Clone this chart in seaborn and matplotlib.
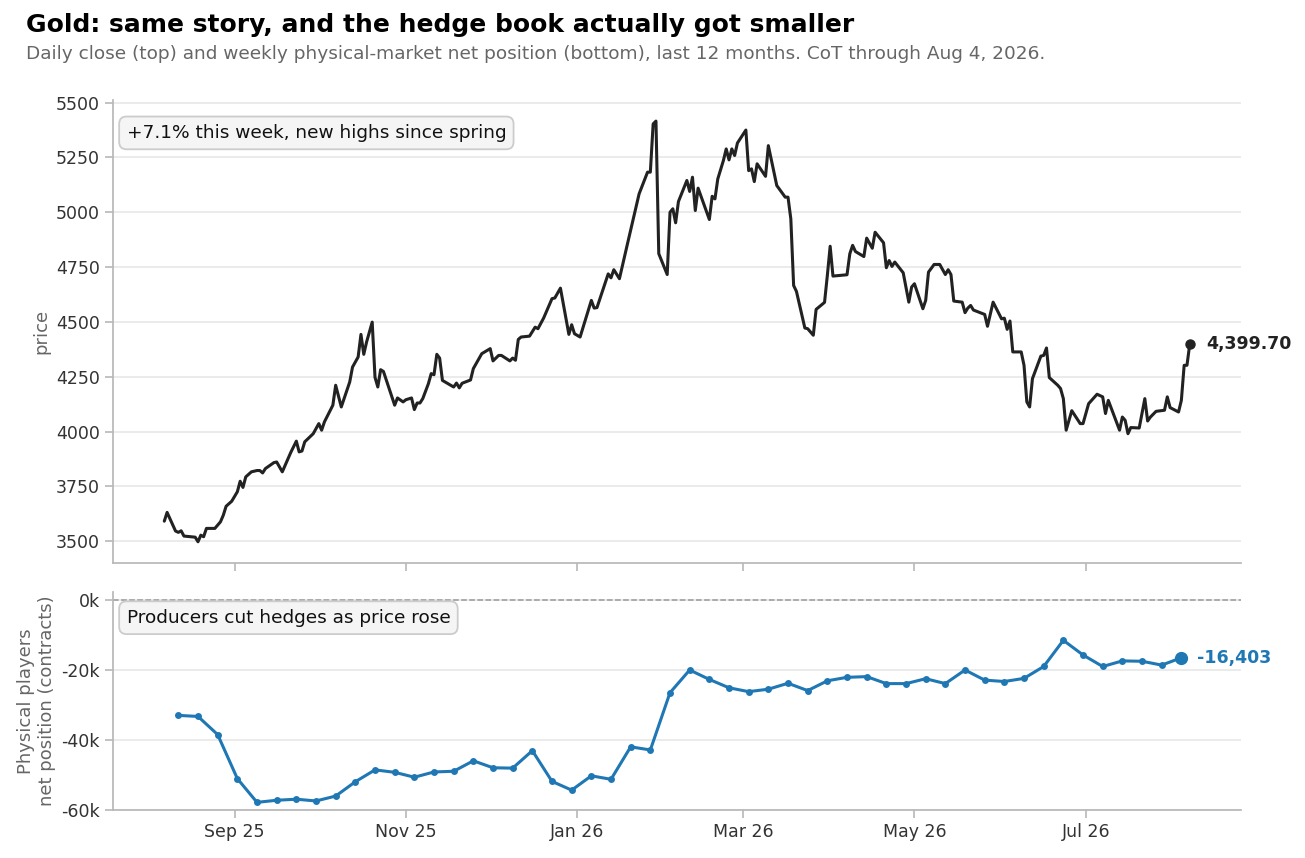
import seaborn as sns
import matplotlib.pyplot as plt
import matplotlib.dates as mdates
import matplotlib.ticker as mticker
import numpy as np
import pandas as pd

# daily close, day = days since 2025-08-07
price_day = [0, 1, 4, 5, 6, 7, 11, 12, 13, 14, 15, 18, 20, 21, 22, 24, 26, 27, 28, 29,
             31, 33, 34, 35, 36, 39, 40, 42, 45, 47, 48, 49, 50, 53, 55, 56, 57, 60, 61, 63,
             64, 66, 67, 69, 70, 71, 72, 74, 75, 76, 77, 78, 82, 83, 85, 86, 88, 89, 90, 91,
             92, 94, 95, 96, 97, 98, 99, 101, 103, 104, 105, 106, 109, 110, 113, 116, 117, 119, 120, 123,
             124, 125, 126, 127, 130, 132, 133, 135, 138, 139, 141, 144, 145, 146, 148, 152, 153, 154, 158, 159,
             160, 162, 165, 169, 172, 173, 174, 175, 176, 179, 180, 181, 182, 183, 186, 187, 188, 189, 190, 194,
             195, 196, 197, 199, 200, 201, 202, 203, 204, 207, 208, 209, 210, 211, 214, 215, 218, 221, 222, 223,
             224, 225, 228, 229, 231, 232, 235, 236, 237, 238, 243, 244, 245, 246, 249, 250, 252, 253, 256, 257,
             258, 259, 260, 263, 265, 266, 267, 270, 271, 272, 274, 276, 278, 279, 280, 281, 284, 285, 286, 287,
             288, 292, 293, 295, 298, 299, 300, 301, 302, 305, 306, 307, 308, 309, 312, 313, 314, 315, 318, 319,
             320, 321, 323, 326, 327, 329, 332, 334, 335, 336, 340, 341, 342, 343, 344, 347, 349, 350, 351, 353,
             356, 357, 358, 361, 362, 363, 364, 365]
price = [3591, 3631, 3546, 3540, 3547, 3523, 3518, 3497, 3527, 3520, 3558, 3558, 3588, 3618, 3659, 3682, 3725, 3773, 3745, 3793,
         3816, 3822, 3822, 3811, 3831, 3858, 3861, 3816, 3904, 3956, 3907, 3911, 3953, 3990, 4036, 4006, 4044, 4120, 4211, 4112,
         4150, 4226, 4294, 4340, 4443, 4352, 4408, 4499, 4247, 4203, 4282, 4274, 4120, 4153, 4135, 4145, 4153, 4100, 4130, 4130,
         4150, 4218, 4264, 4259, 4352, 4335, 4233, 4218, 4203, 4221, 4199, 4220, 4235, 4287, 4355, 4378, 4322, 4347, 4347, 4322,
         4335, 4325, 4420, 4431, 4435, 4476, 4469, 4517, 4606, 4609, 4654, 4443, 4487, 4446, 4431, 4598, 4563, 4565, 4719, 4701,
         4738, 4697, 4864, 5084, 5183, 5183, 5403, 5416, 4811, 4716, 5000, 5016, 4952, 5049, 5145, 5095, 5160, 5008, 5110, 4967,
         5073, 5061, 5152, 5236, 5289, 5239, 5289, 5259, 5316, 5375, 5190, 5198, 5140, 5221, 5164, 5304, 5122, 5069, 5069, 4970,
         4666, 4639, 4472, 4469, 4439, 4557, 4589, 4712, 4845, 4709, 4715, 4811, 4849, 4821, 4798, 4882, 4836, 4909, 4861, 4747,
         4780, 4753, 4773, 4724, 4590, 4659, 4674, 4560, 4598, 4727, 4762, 4762, 4716, 4738, 4716, 4595, 4590, 4542, 4563, 4575,
         4554, 4534, 4480, 4590, 4514, 4517, 4466, 4504, 4363, 4363, 4302, 4135, 4112, 4241, 4344, 4347, 4381, 4246, 4211, 4196,
         4150, 4006, 4095, 4036, 4036, 4127, 4170, 4158, 4082, 4142, 4006, 4066, 4051, 3990, 4018, 4016, 4150, 4048, 4066, 4092,
         4097, 4158, 4109, 4089, 4142, 4302, 4302, 4399.70]

# weekly CoT, physical players net position (contracts), Tuesdays from 2025-08-12
cot_start = "2025-08-12"
net_pos = [-32900, -33200, -38400, -51000, -57800, -57200, -56900, -57400, -56000, -51900,
           -48500, -49200, -50600, -49100, -48900, -45900, -47900, -48000, -43000, -51800,
           -54300, -50200, -51200, -41900, -42800, -26400, -19900, -22600, -25000, -26100,
           -25400, -23700, -25800, -23000, -22000, -21800, -23800, -23800, -22400, -23800,
           -19900, -22800, -23200, -22300, -18900, -11400, -15600, -18900, -17300, -17400,
           -18500, -16403]

gold = pd.DataFrame({"date": pd.Timestamp("2025-08-07") + pd.to_timedelta(price_day, unit="D"),
                     "price": price})
cot = pd.DataFrame({"date": pd.date_range(cot_start, periods=len(net_pos), freq="7D"),
                    "net": net_pos})

sns.set_theme(style="ticks", context="notebook")
plt.rcParams["font.family"] = ["DejaVu Sans"]
plt.rcParams["axes.edgecolor"] = "#b8b8b8"
plt.rcParams["xtick.color"] = "#b8b8b8"
plt.rcParams["ytick.color"] = "#b8b8b8"
plt.rcParams["xtick.labelcolor"] = "#333333"
plt.rcParams["ytick.labelcolor"] = "#333333"

fig, (ax1, ax2) = plt.subplots(2, 1, figsize=(13.05, 8.58), dpi=100, sharex=True,
                               gridspec_kw={"height_ratios": [2.12, 1], "hspace": 0.085})
fig.subplots_adjust(left=0.0866, right=0.951, top=0.8834, bottom=0.0559)

blue = "#1f77b4"

# top: price
sns.lineplot(data=gold, x="date", y="price", ax=ax1, color="#222222", linewidth=2.2)
last = gold.iloc[-1]
ax1.plot(last["date"], last["price"], "o", color="#222222", markersize=6.5)
ax1.annotate(f"{last['price']:,.2f}", (last["date"], last["price"]), xytext=(12, 0),
             textcoords="offset points", va="center", ha="left", fontsize=12.5,
             fontweight="bold", color="#222222")
ax1.yaxis.set_major_locator(mticker.MultipleLocator(250))
ax1.set_ylabel("price", color="#666666", fontsize=13)
ax1.set_xlabel("")
ax1.grid(axis="y", color="#e6e6e6", linewidth=1.1)
ax1.text(0.012, 0.929, "+7.1% this week, new highs since spring", transform=ax1.transAxes,
         fontsize=13.3, va="center", ha="left", color="#111111",
         bbox=dict(boxstyle="round,pad=0.4", fc="#f5f5f5", ec="#cccccc", lw=1.3))

# bottom: net position
ax2.axhline(0, color="#999999", linestyle="--", linewidth=1.1)
sns.lineplot(data=cot, x="date", y="net", ax=ax2, color=blue, linewidth=2.2,
             marker="o", markersize=5, markeredgewidth=0)
lc = cot.iloc[-1]
ax2.plot(lc["date"], lc["net"], "o", color=blue, markersize=8.5)
ax2.annotate(f"{lc['net']:,.0f}", (lc["date"], lc["net"]), xytext=(11, 0),
             textcoords="offset points", va="center", ha="left", fontsize=12.5,
             fontweight="bold", color=blue)
ax2.set_ylim(-60000, 2500)
ax2.set_yticks([0, -20000, -40000, -60000])
ax2.yaxis.set_major_formatter(mticker.FuncFormatter(lambda v, p: f"{int(round(v / 1000))}k"))
ax2.set_ylabel("Physical players\nnet position (contracts)", color="#666666", fontsize=13)
ax2.set_xlabel("")
ax2.grid(axis="y", color="#e6e6e6", linewidth=1.1)
ax2.text(0.012, 0.881, "Producers cut hedges as price rose", transform=ax2.transAxes,
         fontsize=13.3, va="center", ha="left", color="#111111",
         bbox=dict(boxstyle="round,pad=0.4", fc="#f5f5f5", ec="#cccccc", lw=1.3))

ax2.xaxis.set_major_locator(mdates.MonthLocator(bymonth=[1, 3, 5, 7, 9, 11]))
ax2.xaxis.set_major_formatter(mdates.DateFormatter("%b %y"))

for ax in (ax1, ax2):
    ax.tick_params(labelsize=12.5, length=6, width=1.2)
    sns.despine(ax=ax)

fig.text(0.02, 0.971, "Gold: same story, and the hedge book actually got smaller",
         fontsize=18, fontweight="bold", va="center", ha="left", color="#000000")
fig.text(0.02, 0.937, "Daily close (top) and weekly physical-market net position (bottom), "
         "last 12 months. CoT through Aug 4, 2026.",
         fontsize=13.3, va="center", ha="left", color="#666666")

fig.savefig("out.png", dpi=100)
